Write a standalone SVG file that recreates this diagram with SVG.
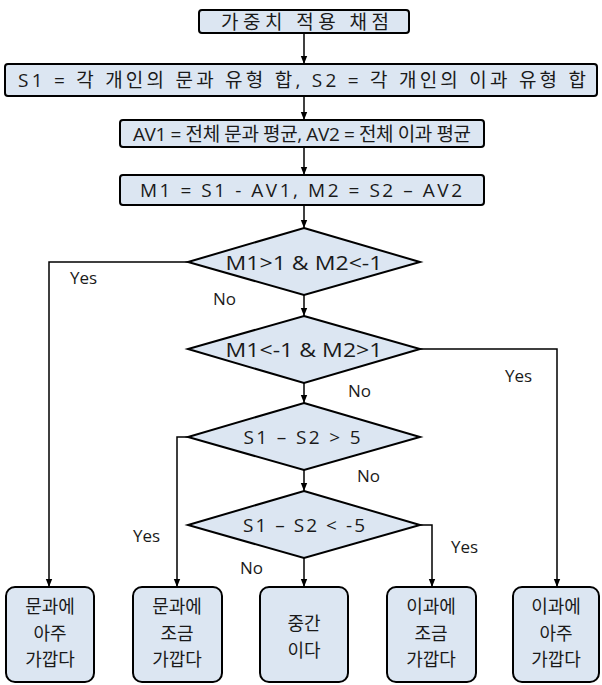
<svg xmlns="http://www.w3.org/2000/svg" width="602" height="685" viewBox="0 0 602 685">
<defs>
<marker id="ah" viewBox="0 0 10 10" refX="10" refY="5" markerWidth="8" markerHeight="8" markerUnits="userSpaceOnUse" orient="auto">
<path d="M0,1 L10,5 L0,9 Z" fill="#000"/>
</marker>
<style>
.box{fill:#dce6f2;stroke:#000;stroke-width:2}
.dia{fill:#dce6f2;stroke:#000;stroke-width:2}
.t{font-family:"Open Sans","Noto Sans CJK KR",sans-serif;fill:#1a1a1a;text-anchor:middle}
.k{font-family:"Noto Sans CJK KR","Open Sans",sans-serif;fill:#1a1a1a;text-anchor:middle;font-size:18px}
.lab{font-family:"Open Sans","Noto Sans CJK KR",sans-serif;fill:#1a1a1a;font-size:17px}
.c{fill:none;stroke:#000;stroke-width:1.5;marker-end:url(#ah)}
</style>
</defs>
<rect width="602" height="685" fill="#fff"/>
<g id="connectors">
<path class="c" d="M304,33 V64"/>
<path class="c" d="M304,96 V120"/>
<path class="c" d="M304,147 V175"/>
<path class="c" d="M304,205 V228"/>
<path class="c" d="M304,295 V316"/>
<path class="c" d="M304,383 V403"/>
<path class="c" d="M304,470 V491"/>
<path class="c" d="M304,558 V587"/>
<path class="c" d="M188,262 H49 V587"/>
<path class="c" d="M420,349 H557 V587"/>
<path class="c" d="M188,437 H177 V587"/>
<path class="c" d="M420,525 H432 V587"/>
<text class="lab" x="70" y="284">Yes</text>
<text class="lab" x="213" y="305">No</text>
<text class="lab" x="505" y="382">Yes</text>
<text class="lab" x="348" y="397">No</text>
<text class="lab" x="357" y="482">No</text>
<text class="lab" x="133" y="542">Yes</text>
<text class="lab" x="451" y="553">Yes</text>
<text class="lab" x="240" y="574">No</text>
</g>
<g id="n1">
<rect class="box" x="199" y="10" width="210" height="23" rx="3"/>
<text class="t" x="305" y="29" font-size="19" textLength="168" lengthAdjust="spacing">가중치 적용 채점</text>
</g>
<g id="n2">
<rect class="box" x="5" y="64" width="592" height="32" rx="3"/>
<text class="t" x="302" y="87" font-size="19" textLength="568" lengthAdjust="spacing">S1 = 각 개인의 문과 유형 합, S2 = 각 개인의 이과 유형 합</text>
</g>
<g id="n3">
<rect class="box" x="120" y="120" width="364" height="27" rx="3"/>
<text class="t" x="302" y="141" font-size="19" textLength="338" lengthAdjust="spacing">AV1 = 전체 문과 평균, AV2 = 전체 이과 평균</text>
</g>
<g id="n4">
<rect class="box" x="120" y="175" width="364" height="30" rx="3"/>
<text class="t" x="301" y="197" font-size="19" textLength="322" lengthAdjust="spacing">M1 = S1 - AV1, M2 = S2 – AV2</text>
</g>
<g id="d1">
<polygon class="dia" points="304,228 420,262 304,295 188,262"/>
<text class="t" x="304" y="270" font-size="20" textLength="157" lengthAdjust="spacingAndGlyphs">M1&gt;1 &amp; M2&lt;-1</text>
</g>
<g id="d2">
<polygon class="dia" points="304,316 420,349 304,383 188,349"/>
<text class="t" x="304" y="357" font-size="20" textLength="157" lengthAdjust="spacingAndGlyphs">M1&lt;-1 &amp; M2&gt;1</text>
</g>
<g id="d3">
<polygon class="dia" points="304,403 420,437 304,470 188,437"/>
<text class="t" x="302" y="444" font-size="19" textLength="117" lengthAdjust="spacing">S1 – S2 &gt; 5</text>
</g>
<g id="d4">
<polygon class="dia" points="304,491 420,525 304,558 188,525"/>
<text class="t" x="304" y="532" font-size="19" textLength="122" lengthAdjust="spacing">S1 – S2 &lt; -5</text>
</g>
<g id="b1">
<rect class="box" x="6" y="587" width="88" height="95" rx="9"/>
<text class="k" x="50" y="613">문과에<tspan x="50" dy="26.5">아주</tspan><tspan x="50" dy="26.5">가깝다</tspan></text>
</g>
<g id="b2">
<rect class="box" x="133" y="587" width="89" height="95" rx="9"/>
<text class="k" x="177" y="613">문과에<tspan x="177" dy="26.5">조금</tspan><tspan x="177" dy="26.5">가깝다</tspan></text>
</g>
<g id="b3">
<rect class="box" x="260" y="587" width="88" height="95" rx="9"/>
<text class="k" x="304" y="630">중간<tspan x="304" dy="26.5">이다</tspan></text>
</g>
<g id="b4">
<rect class="box" x="387" y="587" width="89" height="95" rx="9"/>
<text class="k" x="431" y="613">이과에<tspan x="431" dy="26.5">조금</tspan><tspan x="431" dy="26.5">가깝다</tspan></text>
</g>
<g id="b5">
<rect class="box" x="513" y="587" width="86" height="95" rx="9"/>
<text class="k" x="556" y="613">이과에<tspan x="556" dy="26.5">아주</tspan><tspan x="556" dy="26.5">가깝다</tspan></text>
</g>
</svg>
